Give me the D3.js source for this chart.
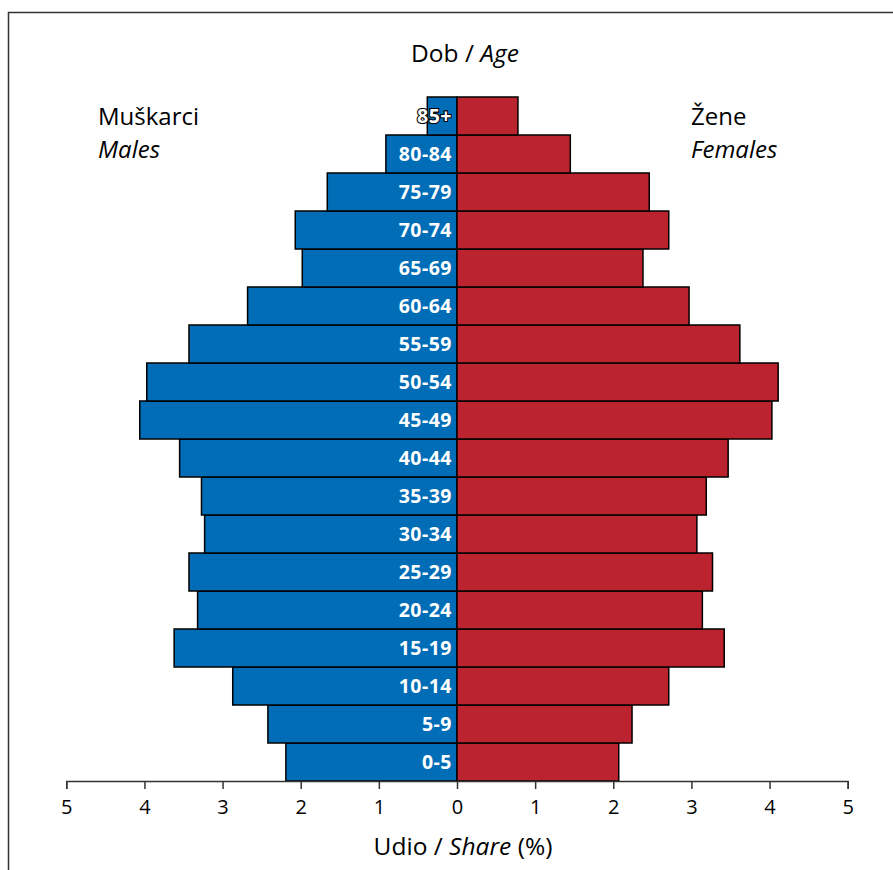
<!DOCTYPE html>
<html>
<head>
<meta charset="utf-8">
<script src="https://cdn.jsdelivr.net/npm/d3@7/dist/d3.min.js"></script>
<style>
  html, body { margin: 0; padding: 0; background: #fff; }
  svg { display: block; }
  text { font-family: "Open Sans", "Noto Sans", sans-serif; }
</style>
</head>
<body>
<svg id="chart" width="893" height="870"></svg>
<script>
const ages = ["0-5","5-9","10-14","15-19","20-24","25-29","30-34","35-39","40-44","45-49","50-54","55-59","60-64","65-69","70-74","75-79","80-84","85+"];
const males = [2.19,2.42,2.87,3.62,3.32,3.43,3.23,3.27,3.55,4.06,3.97,3.43,2.68,1.98,2.07,1.66,0.91,0.38];
const females = [2.07,2.24,2.71,3.42,3.14,3.27,3.07,3.19,3.47,4.03,4.11,3.62,2.97,2.38,2.71,2.46,1.45,0.78];
const xTicks = [-5,-4,-3,-2,-1,0,1,2,3,4,5];

const svg = d3.select("#chart");

// frame
svg.append("rect").attr("x", 8.5).attr("y", 12.5).attr("width", 1000).attr("height", 1000)
  .attr("fill", "none").attr("stroke", "#333").attr("stroke-width", 1.5);

const x = d3.scaleLinear().domain([-5, 5]).range([66.3, 847.7]);
const y = d3.scaleBand().domain(ages.slice().reverse()).range([97, 781]).padding(0);

const data = ages.map((a, i) => ({ age: a, m: males[i], f: females[i] }));

// male bars
svg.append("g").selectAll("rect").data(data).join("rect")
  .attr("x", d => x(-d.m)).attr("y", d => y(d.age))
  .attr("width", d => x(0) - x(-d.m)).attr("height", y.bandwidth())
  .attr("fill", "#006db6").attr("stroke", "#000").attr("stroke-width", 1.5);

// female bars
svg.append("g").selectAll("rect").data(data).join("rect")
  .attr("x", x(0)).attr("y", d => y(d.age))
  .attr("width", d => x(d.f) - x(0)).attr("height", y.bandwidth())
  .attr("fill", "#bb232f").attr("stroke", "#000").attr("stroke-width", 1.5);

// age labels
svg.append("g").selectAll("text").data(data).join("text")
  .attr("x", x(0) - 5).attr("y", d => y(d.age) + y.bandwidth() / 2 + 7)
  .attr("text-anchor", "end")
  .attr("font-size", 19.5).attr("font-weight", "bold")
  .attr("fill", "#fff")
  .attr("stroke", d => d.age === "85+" ? "#000" : "none")
  .attr("stroke-width", 2.2).attr("paint-order", "stroke")
  .attr("letter-spacing", 0.5)
  .text(d => d.age);

// axis
const axis = d3.axisBottom(x).tickValues(xTicks).tickFormat(d => Math.abs(d)).tickSize(8).tickPadding(11);
const gAxis = svg.append("g").attr("transform", "translate(0,781)").call(axis);
gAxis.attr("font-size", 20).attr("font-family", "'Open Sans', sans-serif");
gAxis.select(".domain").attr("stroke", "#333").attr("stroke-width", 1.5);
gAxis.selectAll(".tick line").attr("stroke", "#333").attr("stroke-width", 1.5);
gAxis.selectAll(".tick text").attr("font-size", 20).attr("fill", "#000");

// titles
const t1 = svg.append("text").attr("x", 465).attr("y", 62).attr("text-anchor", "middle").attr("font-size", 24.5);
t1.append("tspan").text("Dob / ");
t1.append("tspan").attr("font-style", "italic").text("Age");

svg.append("text").attr("x", 98).attr("y", 125).attr("font-size", 24).text("Muškarci");
svg.append("text").attr("x", 98).attr("y", 158).attr("font-size", 24).attr("font-style", "italic").text("Males");
svg.append("text").attr("x", 691).attr("y", 125).attr("font-size", 24).text("Žene");
svg.append("text").attr("x", 691).attr("y", 158).attr("font-size", 24).attr("font-style", "italic").text("Females");

const t2 = svg.append("text").attr("x", 463).attr("y", 855).attr("text-anchor", "middle").attr("font-size", 24.5);
t2.append("tspan").text("Udio / ");
t2.append("tspan").attr("font-style", "italic").text("Share");
t2.append("tspan").text(" (%)");
</script>
</body>
</html>
